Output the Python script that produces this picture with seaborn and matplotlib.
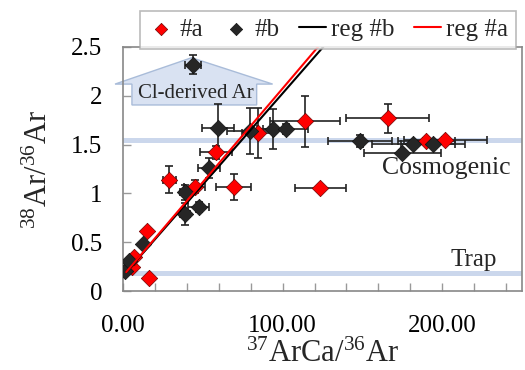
import numpy as np
import matplotlib
matplotlib.use('Agg')
import matplotlib.pyplot as plt
from matplotlib.patches import Polygon
import seaborn as sns

# sample #a (red diamonds)
a_x = [5.6, 6.9, 15.0, 16.5, 28.9, 45.0, 58.0, 69.4, 84.5, 113.9, 123.5, 166.0, 190.0, 202.0]
a_y = [0.25, 0.35, 0.615, 0.13, 1.14, 1.07, 1.42, 1.065, 1.62, 1.74, 1.055, 1.77, 1.535, 1.55]
a_xerr = [0, 0, 0, 0, 4, 6.5, 10, 11, 10, 22, 16, 26, 18, 26]
a_yerr = [0, 0, 0, 0, 0.14, 0.07, 0.07, 0.13, 0.26, 0.26, 0.02, 0.15, 0.03, 0.03]

# sample #b (black diamonds)
b_x = [1.0, 4.0, 12.5, 38.75, 47.5, 38.75, 53.75, 43.75, 59.4, 79.4, 93.75, 102.0,
       148.75, 175.0, 182.0, 194.0]
b_y = [0.21, 0.31, 0.48, 0.79, 0.86, 1.01, 1.26, 2.32, 1.67, 1.64, 1.66, 1.66,
       1.54, 1.41, 1.51, 1.51]
b_xerr = [0, 0, 0, 3, 6.5, 3, 7, 5, 10, 14, 10, 14, 20, 24, 26, 20]
b_yerr = [0, 0, 0, 0.11, 0.05, 0.08, 0.1, 0.1, 0.25, 0.24, 0.2, 0.05, 0.06, 0.03, 0.03, 0.03]

# regression lines (slope, intercept)
reg_a = (0.0192, 0.155)
reg_b = (0.0187, 0.155)
reg_x = np.array([2.0, 140.0])

# reference levels
cosmogenic_y = 1.55
trap_y = 0.18

sns.set_theme(style='white')
plt.rcParams['font.family'] = ['Liberation Serif', 'DejaVu Serif']
plt.rcParams['mathtext.fontset'] = 'custom'
plt.rcParams['mathtext.rm'] = 'Liberation Serif'
plt.rcParams['mathtext.it'] = 'Liberation Serif:italic'
plt.rcParams['mathtext.bf'] = 'Liberation Serif:bold'

fig = plt.figure(figsize=(5.25, 3.7), dpi=100)
ax = fig.add_axes([123 / 525, 1 - 291 / 370, 399 / 525, 244 / 370])

band = '#cbd7ec'
ax.axhline(cosmogenic_y, color=band, lw=3.6, zorder=1)
ax.axhline(trap_y, color=band, lw=3.6, zorder=1)

# Cl-derived arrow box
roof = [(43, 2.39), (93.75, 2.12), (83.75, 2.12), (83.75, 1.906),
        (5.6, 1.906), (5.6, 2.12), (-5, 2.12)]
ax.add_patch(Polygon(roof, closed=True, facecolor='#d9e2f2', edgecolor='#a9bcd9',
                     lw=1, clip_on=False, zorder=2))
ax.text(45.6, 2.02, 'Cl-derived Ar', ha='center', va='center', fontsize=15, zorder=3)

# error bars
ax.errorbar(a_x, a_y, xerr=a_xerr, yerr=a_yerr, fmt='none', ecolor='#222222',
            elinewidth=1.2, capsize=3, capthick=1.2, zorder=3)
ax.errorbar(b_x, b_y, xerr=b_xerr, yerr=b_yerr, fmt='none', ecolor='#222222',
            elinewidth=1.2, capsize=3, capthick=1.2, zorder=3)

sns.scatterplot(x=a_x, y=a_y, marker='D', color='#ff0000', s=70, edgecolor='#700000',
                linewidth=0.5, label='#a', ax=ax, zorder=4)
sns.scatterplot(x=b_x, y=b_y, marker='D', color='#262626', s=70, edgecolor='#111111',
                linewidth=0.5, label='#b', ax=ax, zorder=4)

ax.plot(reg_x, reg_b[0] * reg_x + reg_b[1], color='black', lw=1.5, label='reg #b', zorder=5)
ax.plot(reg_x, reg_a[0] * reg_x + reg_a[1], color='#ff0000', lw=1.5, label='reg #a', zorder=5)

ax.text(243, 1.26, 'Cosmogenic', ha='right', va='center', fontsize=18.5)
ax.text(234, 0.32, 'Trap', ha='right', va='center', fontsize=18)

ax.set_xlim(0, 250)
ax.set_ylim(0, 2.5)
xt = list(range(0, 260, 20))
ax.set_xticks(xt)
ax.set_xticklabels(['%.2f' % v if v % 100 == 0 else '' for v in xt])
yt = [0, 0.5, 1, 1.5, 2, 2.5]
ax.set_yticks(yt)
ax.set_yticklabels(['0', '0.5', '1', '1.5', '2', '2.5'])
ax.tick_params(axis='both', direction='in', length=6, width=1, color='#999999',
               labelsize=18, colors='#999999', labelcolor='black')
ax.tick_params(axis='y', pad=15)
ax.tick_params(axis='x', pad=17)
ax.tick_params(bottom=True, left=True)
for s in ax.spines.values():
    s.set_color('#888888')
    s.set_linewidth(1.2)

ax.set_xlabel(r'$^{37}$ArCa/$^{36}$Ar', fontsize=22, labelpad=2)
ax.set_ylabel(r'$^{38}$Ar/$^{36}$Ar', fontsize=22, labelpad=12)

h, l = ax.get_legend_handles_labels()
ax.get_legend().remove()
order = [l.index(k) for k in ['#a', '#b', 'reg #b', 'reg #a']]
leg = fig.legend([h[i] for i in order], [l[i] for i in order], loc='upper left',
                 bbox_to_anchor=(140 / 525, 1 - 11 / 370), ncol=4, fontsize=18,
                 frameon=True, fancybox=False, edgecolor='#aaaaaa', borderpad=0.3,
                 handlelength=1.1, handletextpad=0.2, columnspacing=0.75,
                 markerscale=0.75, borderaxespad=0)
leg.get_frame().set_linewidth(1.2)

fig.savefig('out.png', dpi=100)
